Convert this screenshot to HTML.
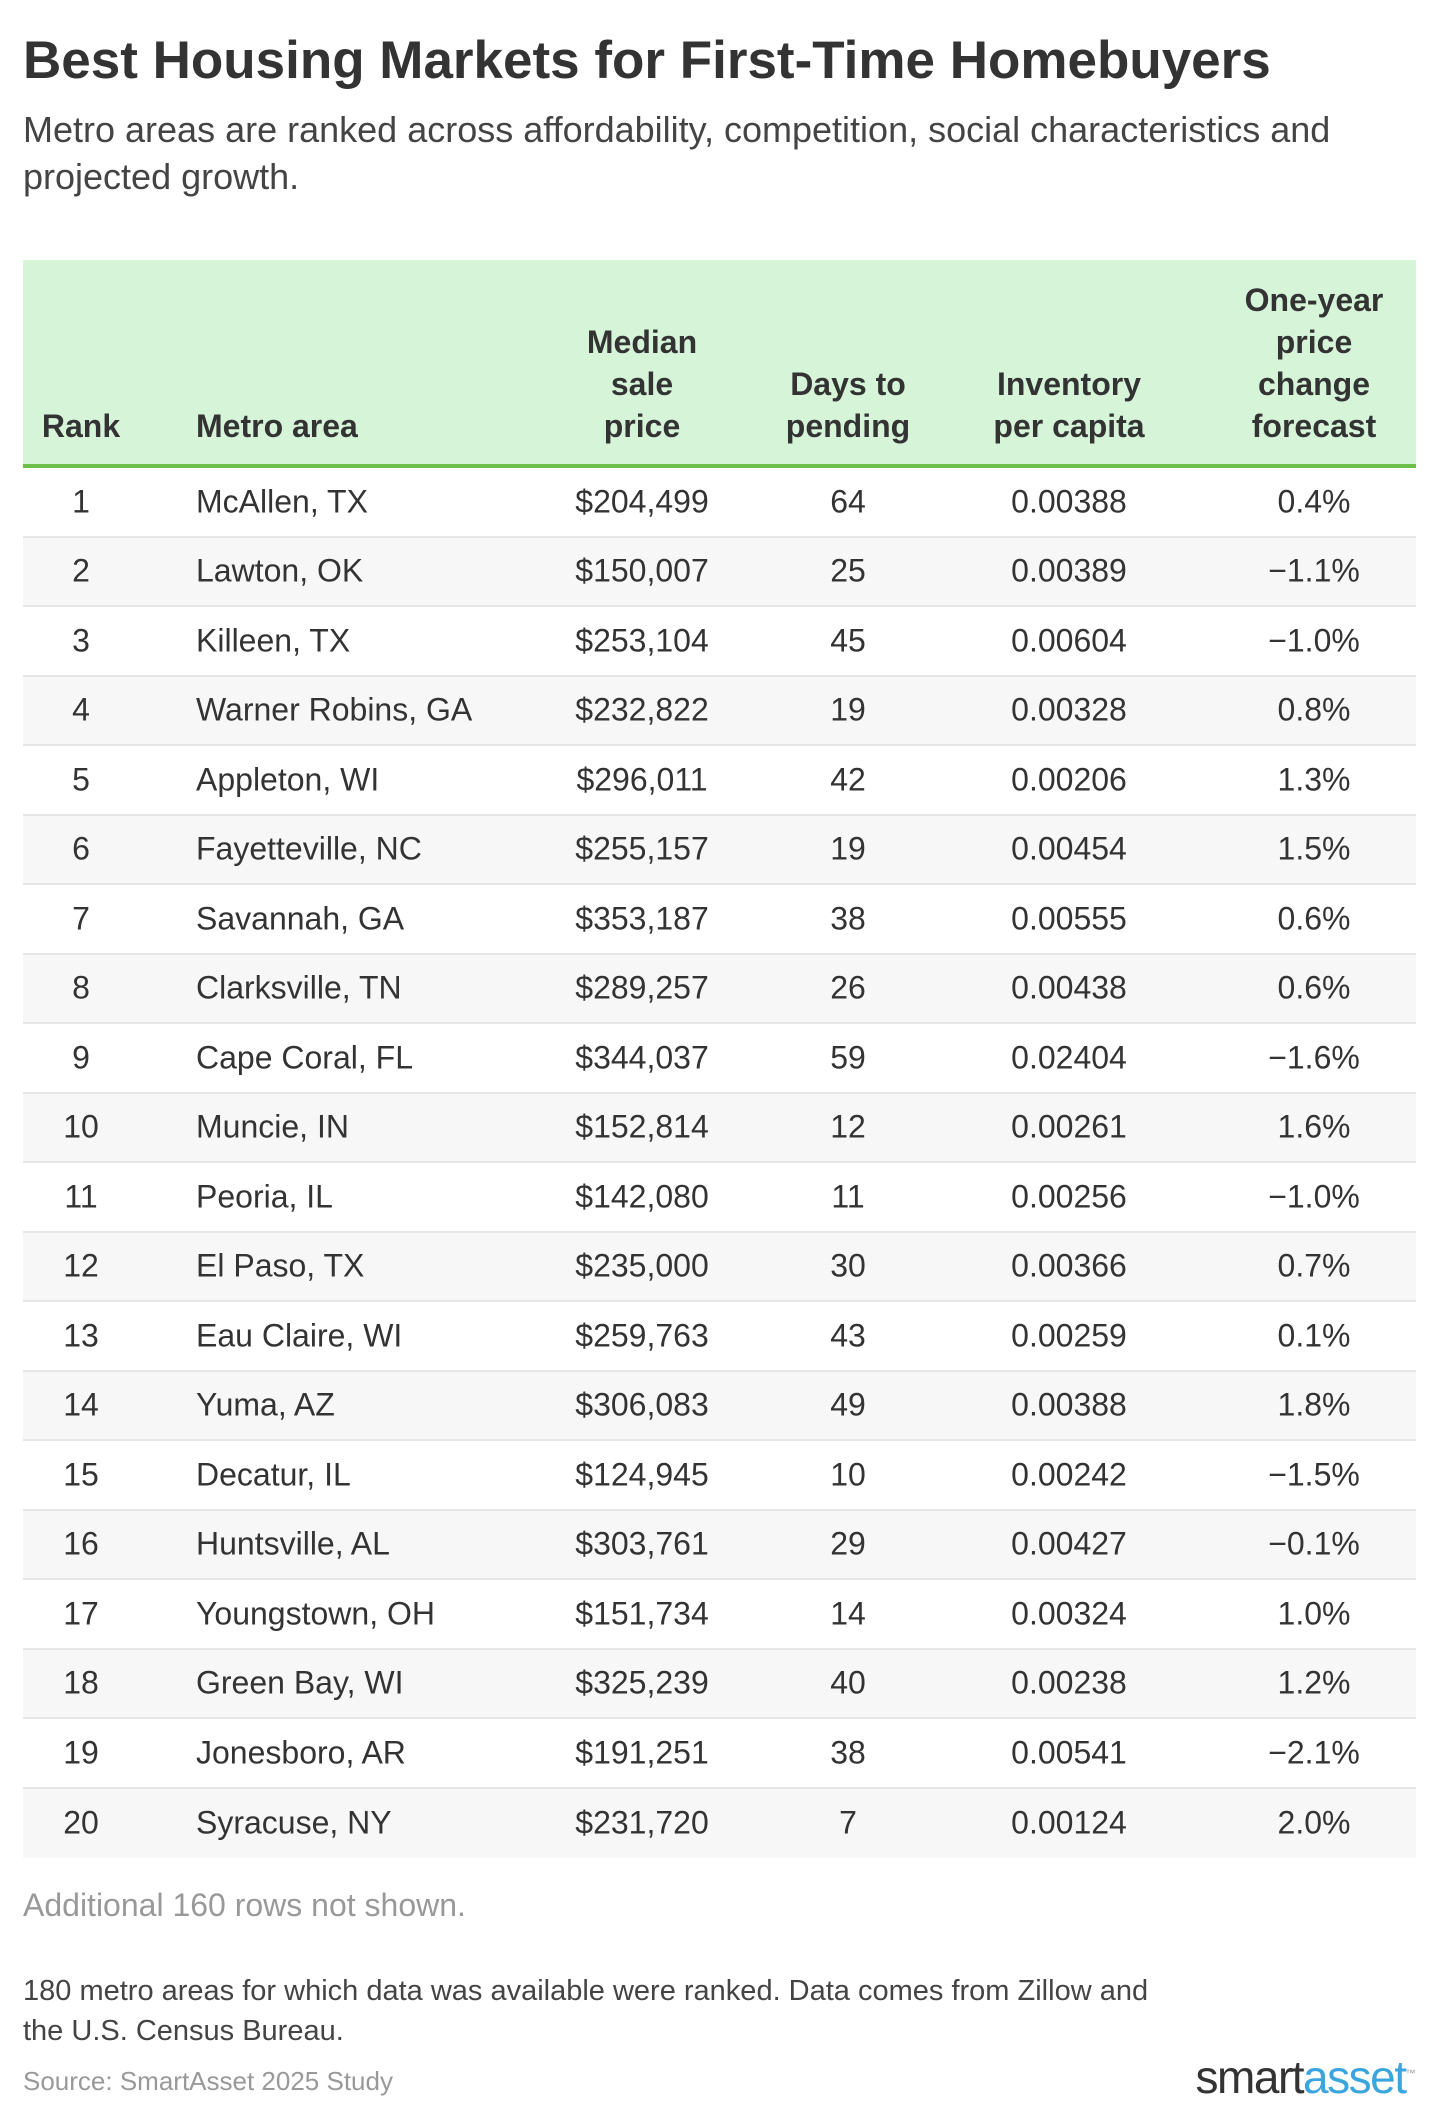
<!DOCTYPE html>
<html><head><meta charset="utf-8"><style>
*{margin:0;padding:0;box-sizing:border-box}
body{width:1440px;height:2121px;background:#fff;font-family:"Liberation Sans",sans-serif;color:#333;position:relative;overflow:hidden}
.t{position:absolute;left:23px;top:30px;font-size:53px;font-weight:bold;color:#333;letter-spacing:0px}
.s{position:absolute;left:23px;top:106px;width:1390px;font-size:36px;line-height:47px;color:#444}
.tbl{position:absolute;left:23px;top:260px;width:1393px}
.hd{height:208px;background:#d5f4d8;border-bottom:4px solid #6cc04a;position:relative;font-weight:bold;font-size:32px;line-height:42px;color:#333}
.hd div{position:absolute;bottom:17px;text-align:center;white-space:nowrap}
.row{height:69.5px;position:relative;font-size:32px;border-bottom:2px solid #e6e6e6;color:#333}
.row.g{background:#f7f7f7}
.row span{position:absolute;top:50%;transform:translate(-50%,-50%);white-space:nowrap}
.row span.m{transform:translate(0,-50%);left:173px}
.n{position:absolute;font-size:29px;color:#444;line-height:40px}
</style></head><body>
<div class="t">Best Housing Markets for First-Time Homebuyers</div>
<div class="s">Metro areas are ranked across affordability, competition, social characteristics and projected growth.</div>
<div class="tbl">
<div class="hd">
<div style="left:58px;transform:translateX(-50%)">Rank</div>
<div style="left:173px">Metro area</div>
<div style="left:619px;transform:translateX(-50%)">Median<br>sale<br>price</div>
<div style="left:825px;transform:translateX(-50%)">Days to<br>pending</div>
<div style="left:1046px;transform:translateX(-50%)">Inventory<br>per capita</div>
<div style="left:1291px;transform:translateX(-50%)">One-year<br>price<br>change<br>forecast</div>
</div>
<div id="rows"></div>
</div>
<script>
var d=[["1","McAllen, TX","$204,499","64","0.00388","0.4%"],["2","Lawton, OK","$150,007","25","0.00389","−1.1%"],["3","Killeen, TX","$253,104","45","0.00604","−1.0%"],["4","Warner Robins, GA","$232,822","19","0.00328","0.8%"],["5","Appleton, WI","$296,011","42","0.00206","1.3%"],["6","Fayetteville, NC","$255,157","19","0.00454","1.5%"],["7","Savannah, GA","$353,187","38","0.00555","0.6%"],["8","Clarksville, TN","$289,257","26","0.00438","0.6%"],["9","Cape Coral, FL","$344,037","59","0.02404","−1.6%"],["10","Muncie, IN","$152,814","12","0.00261","1.6%"],["11","Peoria, IL","$142,080","11","0.00256","−1.0%"],["12","El Paso, TX","$235,000","30","0.00366","0.7%"],["13","Eau Claire, WI","$259,763","43","0.00259","0.1%"],["14","Yuma, AZ","$306,083","49","0.00388","1.8%"],["15","Decatur, IL","$124,945","10","0.00242","−1.5%"],["16","Huntsville, AL","$303,761","29","0.00427","−0.1%"],["17","Youngstown, OH","$151,734","14","0.00324","1.0%"],["18","Green Bay, WI","$325,239","40","0.00238","1.2%"],["19","Jonesboro, AR","$191,251","38","0.00541","−2.1%"],["20","Syracuse, NY","$231,720","7","0.00124","2.0%"]];
var h="";d.forEach(function(r,i){h+='<div class="row'+(i%2?' g':'')+'"'+(i==19?' style="border-bottom:none"':'')+'><span style="left:58px">'+r[0]+'</span><span class="m">'+r[1]+'</span><span style="left:619px">'+r[2]+'</span><span style="left:825px">'+r[3]+'</span><span style="left:1046px">'+r[4]+'</span><span style="left:1291px">'+r[5]+'</span></div>';});
document.getElementById("rows").innerHTML=h;
</script>
<div class="n" style="left:23px;top:1885px;font-size:32px;color:#999">Additional 160 rows not shown.</div>
<div class="n" style="left:23px;top:1971px">180 metro areas for which data was available were ranked. Data comes from Zillow and<br>the U.S. Census Bureau.</div>
<div class="n" style="left:23px;top:2061px;font-size:26px;color:#999">Source: SmartAsset 2025 Study</div>
<div style="position:absolute;right:26px;top:2050px;font-size:46px;letter-spacing:-1.5px"><span style="color:#333">smart</span><span style="color:#3aa6dd">asset</span><sup style="font-size:10px;color:#999">™</sup></div>
</body></html>
